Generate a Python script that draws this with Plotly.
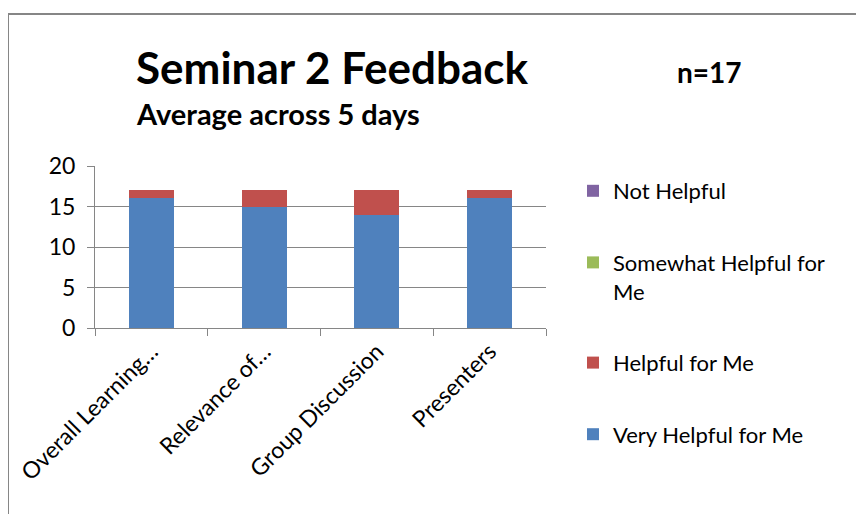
import plotly.graph_objects as go

categories = ["Overall Learning…", "Relevance of…", "Group Discussion", "Presenters"]
very_helpful = [16, 15, 14, 16]
helpful = [1, 2, 3, 1]
somewhat_helpful = [0, 0, 0, 0]
not_helpful = [0, 0, 0, 0]

series = [
    ("Very Helpful for Me", very_helpful, "#4F81BD"),
    ("Helpful for Me", helpful, "#C0504D"),
    ("Somewhat Helpful for<br>Me", somewhat_helpful, "#9BBB59"),
    ("Not Helpful", not_helpful, "#8064A2"),
]

FONT = "Lato"

fig = go.Figure()
for i, (name, vals, col) in enumerate(series):
    fig.add_trace(go.Bar(
        x=categories, y=vals, name=name, marker=dict(color=col, line=dict(width=0)),
        legendgroup=f"g{i}", legendrank=10 - i,
    ))

# page body has an 8px margin; positions below are in screenshot pixels
OFF = 8
W, H = 864, 514
L, R, T, B = 95 - OFF, 546 - OFF, 166 - OFF, 328 - OFF
pw, ph = R - L, B - T

def px(x):
    return (x - OFF - L) / pw

def py(y):
    return (B - (y - OFF)) / ph

fig.update_layout(
    width=W, height=H,
    barmode="stack", bargap=0.6,
    margin=dict(l=L, r=W - R, t=T, b=H - B, pad=0, autoexpand=False),
    paper_bgcolor="white", plot_bgcolor="white",
    font=dict(family=FONT, color="black", size=18),
    showlegend=True,
    legend=dict(
        x=px(573), y=py(170), xanchor="left", yanchor="top",
        traceorder="grouped", tracegroupgap=40, maxheight=400,
        font=dict(size=22, family=FONT), valign="top",
        itemwidth=30, bgcolor="rgba(0,0,0,0)",
    ),
    xaxis=dict(
        type="category", tickangle=-45, tickson="boundaries", ticks="outside",
        ticklen=7, tickcolor="#868686", showline=True, linecolor="#868686",
        linewidth=1, showgrid=False, tickfont=dict(size=23, family=FONT),
        automargin=False,
    ),
    yaxis=dict(
        range=[0, 20], dtick=5, tick0=0, ticks="outside", ticklen=7,
        tickcolor="#868686", showline=True, linecolor="#868686", linewidth=1,
        showgrid=True, gridcolor="#868686", gridwidth=1, zeroline=False,
        tickfont=dict(size=23, family=FONT), ticklabelstandoff=7, automargin=False,
    ),
    shapes=[dict(
        type="rect", xref="paper", yref="paper",
        x0=px(8), x1=px(900), y0=py(14), y1=py(560),
        line=dict(color="#868686", width=2), fillcolor="rgba(0,0,0,0)", layer="below",
    )],
    annotations=[
        dict(text="<b>Seminar 2 Feedback</b>", xref="paper", yref="paper",
             x=px(134), y=py(67), xanchor="left", yanchor="middle", showarrow=False,
             font=dict(size=44, family=FONT)),
        dict(text="<b>Average across 5 days</b>", xref="paper", yref="paper",
             x=px(134), y=py(113), xanchor="left", yanchor="middle", showarrow=False,
             font=dict(size=29, family=FONT)),
        dict(text="<b>n=17</b>", xref="paper", yref="paper",
             x=px(675), y=py(72), xanchor="left", yanchor="middle", showarrow=False,
             font=dict(size=28, family=FONT)),
    ],
)

fig.write_html("out.html")
